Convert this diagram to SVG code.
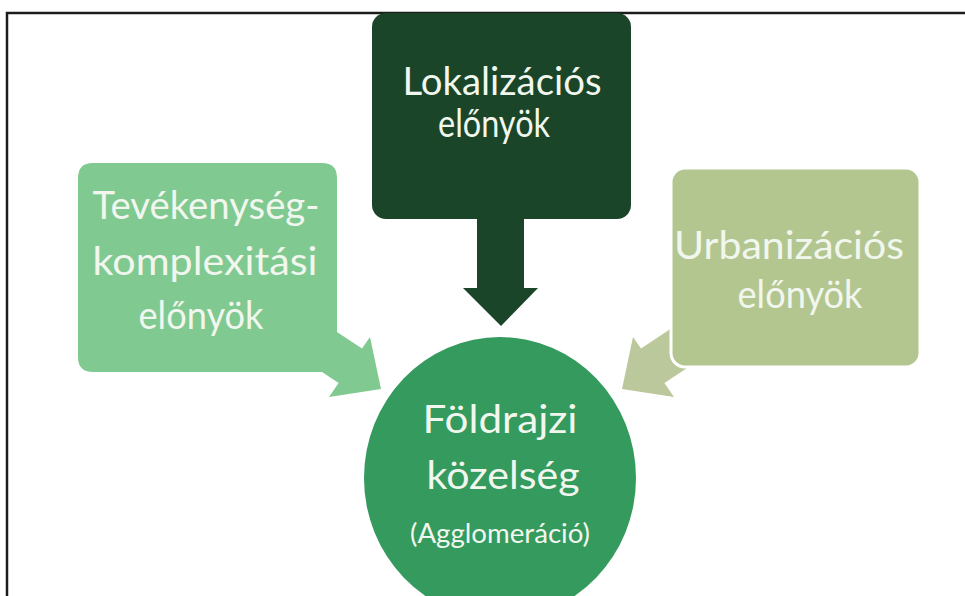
<svg xmlns="http://www.w3.org/2000/svg" width="965" height="596" viewBox="0 0 965 596">
  <style>
    .lbl { font-family: Lato, "Open Sans", "DejaVu Sans", sans-serif; fill: #F1F7EE; text-anchor: middle; }
    .big { font-size: 38px; }
    .small { font-size: 27px; }
  </style>
  <rect x="0" y="0" width="965" height="596" fill="#ffffff"/>
  <!-- outer frame, open to the right and bottom -->
  <path d="M7,596 V13 H965" fill="none" stroke="#1c1c1c" stroke-width="2.5"/>

  <g id="connectors">
    <!-- downward arrow from the top box -->
    <path id="arrow-top" d="M477,218 H524 V288 H538 L501,326 L463,288 H477 Z" fill="#1A4528"/>
    <!-- arrow from the right box (drawn behind it) -->
    <path id="arrow-right" d="M690,316 L641,348.6 L633,337 L622,389 L674,397 L664.4,383 L700,359.4 Z" fill="#BAC89C"/>
  </g>

  <g id="node-left">
    <path d="M93,163 H322 Q337,163 337,178 V332 L362,348.6 L370,337 L381,389 L329,397 L338.6,383 L322,372 H93 Q78,372 78,357 V178 Q78,163 93,163 Z" fill="#80C990"/>
    <text class="lbl big" x="206" y="219" textLength="227" lengthAdjust="spacingAndGlyphs">Tevékenység-</text>
    <text class="lbl big" x="205" y="275" textLength="225" lengthAdjust="spacingAndGlyphs">komplexitási</text>
    <text class="lbl big" x="201" y="329" textLength="125" lengthAdjust="spacingAndGlyphs">előnyök</text>
  </g>

  <g id="node-top">
    <rect x="372" y="13" width="259" height="206" rx="14" fill="#1A4528"/>
    <text class="lbl big" x="502" y="95" textLength="199" lengthAdjust="spacingAndGlyphs">Lokalizációs</text>
    <text class="lbl big" x="494" y="137" textLength="112" lengthAdjust="spacingAndGlyphs">előnyök</text>
  </g>

  <g id="node-right">
    <rect x="671" y="168" width="249" height="199" rx="14" fill="#B4C690" stroke="#ffffff" stroke-width="3"/>
    <text class="lbl big" x="789" y="259" textLength="230" lengthAdjust="spacingAndGlyphs">Urbanizációs</text>
    <text class="lbl big" x="800" y="308" textLength="125" lengthAdjust="spacingAndGlyphs">előnyök</text>
  </g>

  <g id="node-center">
    <ellipse cx="500" cy="478" rx="136" ry="141" fill="#349A5D"/>
    <text class="lbl big" x="500" y="433" textLength="155" lengthAdjust="spacingAndGlyphs">Földrajzi</text>
    <text class="lbl big" x="503" y="489" textLength="153" lengthAdjust="spacingAndGlyphs">közelség</text>
    <text class="lbl small" x="500" y="543" textLength="180" lengthAdjust="spacingAndGlyphs">(Agglomeráció)</text>
  </g>
</svg>
